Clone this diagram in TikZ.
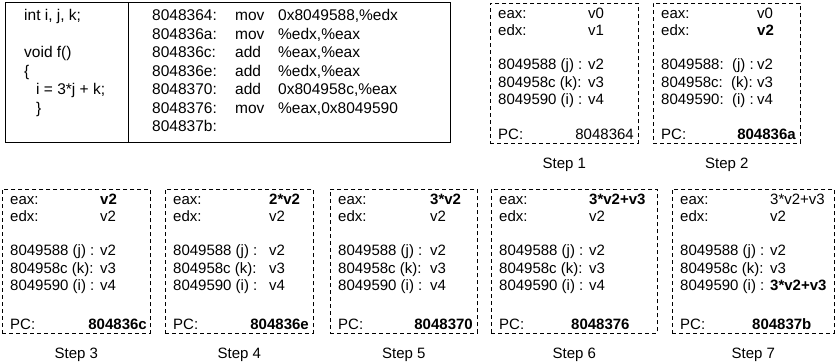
\documentclass[tikz,border=0pt]{standalone}
\usepackage{fontspec}
\setmainfont{Liberation Sans}
\usetikzlibrary{positioning}

% memory lines of a register box
\newcommand{\memrow}[2]{#1 #2}
\newcommand{\memrowc}[2]{#1:~~#2}

\begin{document}
\begin{tikzpicture}[x=1pt,y=-1pt,
	codebox/.style={draw,line width=1pt},
	regbox/.style={draw,dash pattern=on 4pt off 3pt,line width=0.7pt,inner sep=0pt,anchor=north west},
	txt/.style={anchor=base west,inner sep=0pt,font=\fontsize{15}{18}\selectfont},
	code/.style={anchor=base west,inner sep=0pt,font=\fontsize{15.5}{18}\selectfont},
	steplabel/.style={inner sep=0pt,font=\fontsize{15}{18}\selectfont}]
	\useasboundingbox (0,0) rectangle (836,363);
	
	% Source and assembly
	\draw[codebox] (5,3) rectangle (450,143);
	\draw[codebox] (128,3) -- (128,143);
	\node[code] (c1) at (24,21) {int i, j, k;};
	\node[code] (c2) at (24,58) {void f()};
	\node[code] (c3) at (24,76.5) {\{};
	\node[code] (c4) at (36,95) {i = 3*j + k;};
	\node[code] (c5) at (36,113.5) {\}};
	\foreach \r/\ad/\op/\arg in {1/8048364/mov/{0x8049588,\%edx}, 2/804836a/mov/{\%edx,\%eax},
		3/804836c/add/{\%eax,\%eax}, 4/804836e/add/{\%edx,\%eax}, 5/8048370/add/{0x804958c,\%eax},
		6/8048376/mov/{\%eax,0x8049590}, 7/804837b//{}}{
		\node[code] (a\r) at (152,{21+18.5*(\r-1)}) {\ad:};
		\node[code] (m\r) at (235,{21+18.5*(\r-1)}) {\op};
		\node[code] (o\r) at (278,{21+18.5*(\r-1)}) {\arg};
	}
	
	% Register and memory state after each step
	\foreach \n/\lx/\ty/\w/\h/\vx/\mr/\ea/\ed/\mi/\pcx/\pca/\pc in {
		1/490/3/148/140/98/\memrow/v0/v1/v4/144/base east/8048364,
		2/653/3/147/140/104/\memrowc/v0/\textbf{v2}/v4/143/base east/\textbf{804836a},
		3/2/189/148/144/98/\memrow/\textbf{v2}/v2/v4/145/base east/\textbf{804836c},
		4/165/189/148/144/104/\memrow/\textbf{2*v2}/v2/v4/144/base east/\textbf{804836e},
		5/330/189/147/144/100/\memrow/\textbf{3*v2}/v2/v4/143/base east/\textbf{8048370},
		6/491/189/166/144/98/\memrow/\textbf{3*v2+v3}/v2/v4/80/base west/\textbf{8048376},
		7/672/189/162/144/98/\memrow/3*v2+v3/v2/\textbf{3*v2+v3}/80/base west/\textbf{804837b}}{
		\node[regbox,minimum width=\w pt,minimum height=\h pt] (s\n) at (\lx,\ty) {};
		\node[steplabel,below=14pt of s\n] (l\n) {Step \n};
		\node[txt] (e\n) at (\lx+8,\ty+16) {eax:};
		\node[txt] (d\n) at (\lx+8,\ty+33) {edx:};
		\node[txt] (ev\n) at (\lx+\vx,\ty+16) {\ea};
		\node[txt] (dv\n) at (\lx+\vx,\ty+33) {\ed};
		\node[txt] (j\n) at (\lx+8,\ty+67) {\mr{8049588}{(j) :}};
		\node[txt] (k\n) at (\lx+8,\ty+85) {\mr{804958c}{(k):}};
		\node[txt] (i\n) at (\lx+8,\ty+102) {\mr{8049590}{(i) :}};
		\node[txt] (jv\n) at (\lx+\vx,\ty+67) {v2};
		\node[txt] (kv\n) at (\lx+\vx,\ty+85) {v3};
		\node[txt] (iv\n) at (\lx+\vx,\ty+102) {\mi};
		\node[txt] (p\n) at (\lx+8,\ty+\h-3) {PC:};
		\node[txt,anchor=\pca] (pv\n) at (\lx+\pcx,\ty+\h-3) {\pc};
	}
\end{tikzpicture}
\end{document}
